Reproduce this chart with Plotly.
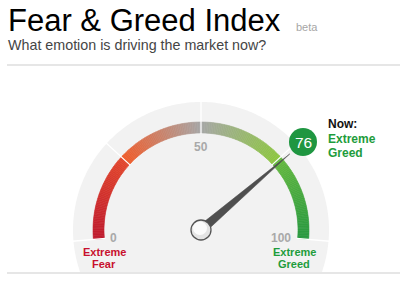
import math
import plotly.graph_objects as go

# ---- data ----
title = "Fear & Greed Index"
subtitle = "What emotion is driving the market now?"
current_value = 76
current_label = ["Extreme", "Greed"]
tick_values = [0, 50, 100]
tick_labels = ["0", "50", "100"]
divider_values = [0, 25, 50, 75, 100]
end_labels_left = ["Extreme", "Fear"]
end_labels_right = ["Extreme", "Greed"]

# ---- geometry / style ----
W, H = 400, 294
CX, CY = 201, 230
R_IN, R_OUT = 97, 108
R_BG = 128
START_DEG, SPAN_DEG = 185.0, 190.0
FONT = "Liberation Sans, Arial, sans-serif"

stops = [
    (0.0, (190, 26, 45)),
    (24.9, (226, 70, 44)),
    (25.0, (240, 90, 40)),
    (50.0, (166, 166, 166)),
    (74.9, (140, 198, 63)),
    (75.0, (100, 184, 62)),
    (100.0, (40, 152, 64)),
]


def ang(v):
    return math.radians(START_DEG - v / 100.0 * SPAN_DEG)


def pt(v, r):
    a = ang(v)
    return CX + r * math.cos(a), CY - r * math.sin(a)


def color_at(v):
    for (v0, c0), (v1, c1) in zip(stops, stops[1:]):
        if v0 <= v <= v1:
            t = 0 if v1 == v0 else (v - v0) / (v1 - v0)
            c = [round(c0[i] + (c1[i] - c0[i]) * t) for i in range(3)]
            return "rgb(%d,%d,%d)" % tuple(c)
    return "rgb(%d,%d,%d)" % stops[-1][1]


shapes = []

# separator line
shapes.append(dict(type="line", x0=7, x1=W, y0=65, y1=65,
                   line=dict(color="#e6e6e6", width=2), layer="below"))

# gray background disc (clipped at bottom)
bottom = 272
pts = []
ymax_a = math.asin((bottom - CY) / R_BG)
n = 200
for i in range(n + 1):
    a = math.pi + ymax_a - i * (math.pi + 2 * ymax_a) / n
    x = CX + R_BG * math.cos(a)
    y = CY - R_BG * math.sin(a)
    pts.append((x, min(y, bottom)))
path = "M " + " L ".join("%.2f,%.2f" % p for p in pts) + " Z"
shapes.append(dict(type="path", path=path, fillcolor="#f2f2f2",
                   line=dict(width=0), layer="below"))

shapes.append(dict(type="line", x0=7, x1=W, y0=273, y1=273,
                   line=dict(color="#e6e6e6", width=2), layer="below"))

# gradient arc
steps = 200
for i in range(steps):
    v0 = 100.0 * i / steps
    v1 = 100.0 * (i + 1) / steps
    vm = (v0 + v1) / 2
    p1 = pt(v0, R_OUT); p2 = pt(v1, R_OUT)
    p3 = pt(v1, R_IN); p4 = pt(v0, R_IN)
    path = "M %.2f,%.2f L %.2f,%.2f L %.2f,%.2f L %.2f,%.2f Z" % (*p1, *p2, *p3, *p4)
    c = color_at(vm)
    shapes.append(dict(type="path", path=path, fillcolor=c,
                       line=dict(color=c, width=0.6), layer="below"))

# white divider ticks
for v in divider_values:
    a0 = pt(v, R_IN - 1)
    a1 = pt(v, R_BG + 1)
    shapes.append(dict(type="line", x0=a0[0], y0=a0[1], x1=a1[0], y1=a1[1],
                       line=dict(color="white", width=1.3), layer="above"))

# needle
a = ang(current_value)
tip = pt(current_value, 117)
px, py = -math.sin(a), -math.cos(a)
hw = 4.5
b1 = (CX + px * hw, CY + py * hw)
b2 = (CX - px * hw, CY - py * hw)
back = (CX - math.cos(a) * 4, CY + math.sin(a) * 4)
shapes.append(dict(type="path",
                   path="M %.2f,%.2f L %.2f,%.2f L %.2f,%.2f L %.2f,%.2f Z" % (*b1, *tip, *b2, *back),
                   fillcolor="#4f4f4f", line=dict(color="#4f4f4f", width=0.5)))

# pivot
shapes.append(dict(type="circle", x0=CX - 10, x1=CX + 10, y0=CY - 10, y1=CY + 10,
                   fillcolor="#e4e4e4", line=dict(color="#555555", width=1.3)))
shapes.append(dict(type="circle", x0=CX - 8, x1=CX + 6, y0=CY - 8.5, y1=CY + 5,
                   fillcolor="#fbfbfb", line=dict(width=0)))

# bubble
BX, BY, BR = 303, 142, 14
shapes.append(dict(type="circle", x0=BX - BR, x1=BX + BR, y0=BY - BR, y1=BY + BR,
                   fillcolor="#1f9641", line=dict(width=0)))

ann = []


def text(x, y, s, size, color, bold=False, xanchor="center", yanchor="middle"):
    ann.append(dict(x=x, y=y, xref="x", yref="y", text=("<b>%s</b>" % s) if bold else s,
                    showarrow=False, xanchor=xanchor, yanchor=yanchor,
                    font=dict(family=FONT, size=size, color=color)))


text(6, 20, title, 31, "#000000", xanchor="left")
text(294, 27, "beta", 11, "#a6a6a6", xanchor="left")
text(6, 45, subtitle, 14.3, "#454545", xanchor="left")

# tick number labels
label_pos = [(113, 237.5), (201, 146.5), (281, 237.5)]
for (x, y), s in zip(label_pos, tick_labels):
    text(x, y, s, 12, "#a9a9a9", bold=True)

text(104, 251.5, end_labels_left[0], 11, "#c8102e", bold=True)
text(104, 263.5, end_labels_left[1], 11, "#c8102e", bold=True)
text(294, 251.5, end_labels_right[0], 11, "#1e9c3c", bold=True)
text(294, 263.5, end_labels_right[1], 11, "#1e9c3c", bold=True)

text(BX, BY, str(current_value), 15.5, "white")
text(326, 124, "Now:", 12, "#111111", bold=True, xanchor="left")
text(326, 139, current_label[0], 12, "#1e9c3c", bold=True, xanchor="left")
text(326, 153, current_label[1], 12, "#1e9c3c", bold=True, xanchor="left")

fig = go.Figure()
fig.add_trace(go.Scatter(x=[current_value], y=[None], mode="markers", showlegend=False,
                         hoverinfo="skip"))
fig.update_layout(
    width=W, height=H, margin=dict(l=0, r=0, t=0, b=0),
    paper_bgcolor="white", plot_bgcolor="white",
    xaxis=dict(range=[0, W], visible=False, fixedrange=True),
    yaxis=dict(range=[H, 0], visible=False, fixedrange=True),
    shapes=shapes, annotations=ann, showlegend=False,
)
fig.write_html("out.html", config={"displayModeBar": False})
